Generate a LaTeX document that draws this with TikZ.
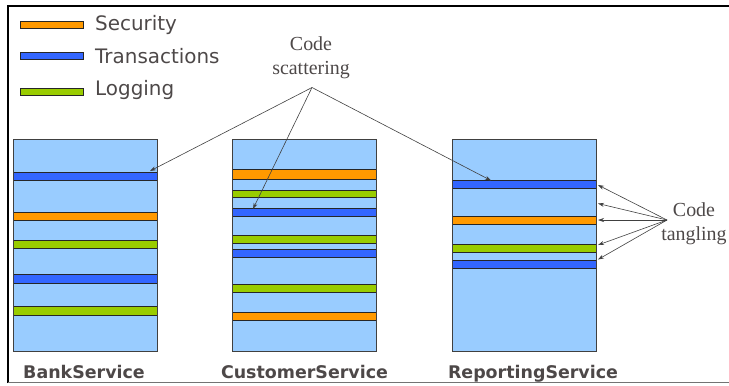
\documentclass[tikz,border=0pt]{standalone}
\usepackage{fontspec}
\setmainfont{Liberation Serif}
\newfontfamily\legendfont{DejaVu Sans}
\usetikzlibrary{arrows.meta}
\definecolor{boxblue}{HTML}{99CCFF}
\definecolor{transblue}{HTML}{3366FF}
\definecolor{secorange}{HTML}{FF9900}
\definecolor{loggreen}{HTML}{99CC00}
\definecolor{textgray}{HTML}{4D4848}
\tikzset{
	service/.style = {draw = black!75, fill = boxblue, line width = 0.9pt},
	stripe/.style = {draw = black!85, line width = 1pt},
	pointer/.style = {draw = black!75, line width = 0.6pt, -{Stealth[length = 6pt, width = 4pt]}},
	servicelabel/.style = {font = \legendfont\bfseries\fontsize{17.5}{20}\selectfont, text = textgray, anchor = base},
	legendlabel/.style = {font = \legendfont\fontsize{20}{24}\selectfont, text = textgray, anchor = base west, inner sep = 0pt},
	notelabel/.style = {font = \fontsize{20}{24}\selectfont, text = textgray, align = center}
}
\begin{document}
\begin{tikzpicture}[x = 1bp, y = -1bp]
	\useasboundingbox (0, 0) rectangle (729, 385);
	%Frame
	\draw[line width = 2.2pt] (8, 383) -- (8, 6) -- (729, 6);
	\draw[black!55, line width = 0.8pt] (8, 382) -- (729, 382);
	%Legend
	\draw[stripe, fill = secorange] (20, 21) rectangle (83, 28);
	\draw[stripe, fill = transblue] (20, 52) rectangle (83, 59);
	\draw[stripe, fill = loggreen] (20, 88) rectangle (83, 95);
		\node[legendlabel] (legsec) at (95, 30.5) {Security};
		\node[legendlabel] (legtrans) at (95, 63) {Transactions};
		\node[legendlabel] (leglog) at (95, 95) {Logging};
	%Services
		%BankService
		\draw[service] (13, 139.3) rectangle (157, 351.7);
		\foreach \ya/\yb/\col in {172.3/180.7/transblue, 212/220/secorange, 240/248.3/loggreen, 274.3/283/transblue, 306/315.3/loggreen}
			\draw[stripe, fill = \col] (13, \ya) rectangle (157, \yb);
		\draw[black!75, line width = 0.9pt] (13, 139.3) rectangle (157, 351.7);
		\node[servicelabel] (bank) at (84, 378) {BankService};
		%CustomerService
		\draw[service] (232.7, 139.3) rectangle (376.7, 351.7);
		\foreach \ya/\yb/\col in {169.7/179/secorange, 190/197.7/loggreen, 208.7/216.7/transblue, 235.3/243.3/loggreen, 249.3/257.7/transblue, 284/292.3/loggreen, 312.3/320.7/secorange}
			\draw[stripe, fill = \col] (232.7, \ya) rectangle (376.7, \yb);
		\draw[black!75, line width = 0.9pt] (232.7, 139.3) rectangle (376.7, 351.7);
		\node[servicelabel] (customer) at (304.5, 378) {CustomerService};
		%ReportingService
		\draw[service] (452, 139.3) rectangle (596.7, 351.7);
		\foreach \ya/\yb/\col in {180/188.7/transblue, 216/224.3/secorange, 244.3/252.7/loggreen, 260.3/268.3/transblue}
			\draw[stripe, fill = \col] (452, \ya) rectangle (596.7, \yb);
		\draw[black!75, line width = 0.9pt] (452, 139.3) rectangle (596.7, 351.7);
		\node[servicelabel] (reporting) at (533, 378) {ReportingService};
	%Code scattering
	\node[notelabel] (scatter) at (311, 58) {Code\\scattering};
	\coordinate (scattop) at (312, 87.5);
	\coordinate (scatbank) at (150, 171);
	\coordinate (scatcust) at (253, 209);
	\coordinate (scatrep) at (491, 180.5);
	\foreach \tgt in {scatbank, scatcust, scatrep}
		\draw[pointer] (scattop) -- (\tgt);
	%Code tangling
	\node[notelabel] (tangle) at (694, 224) {Code\\tangling};
	\coordinate (tangtop) at (667, 220);
	\foreach \y [count = \i] in {185, 203.5, 220, 245, 259.5}
		\coordinate (tang\i) at (598, \y);
	\foreach \i in {1,...,5}
		\draw[pointer] (tangtop) -- (tang\i);
\end{tikzpicture}
\end{document}
